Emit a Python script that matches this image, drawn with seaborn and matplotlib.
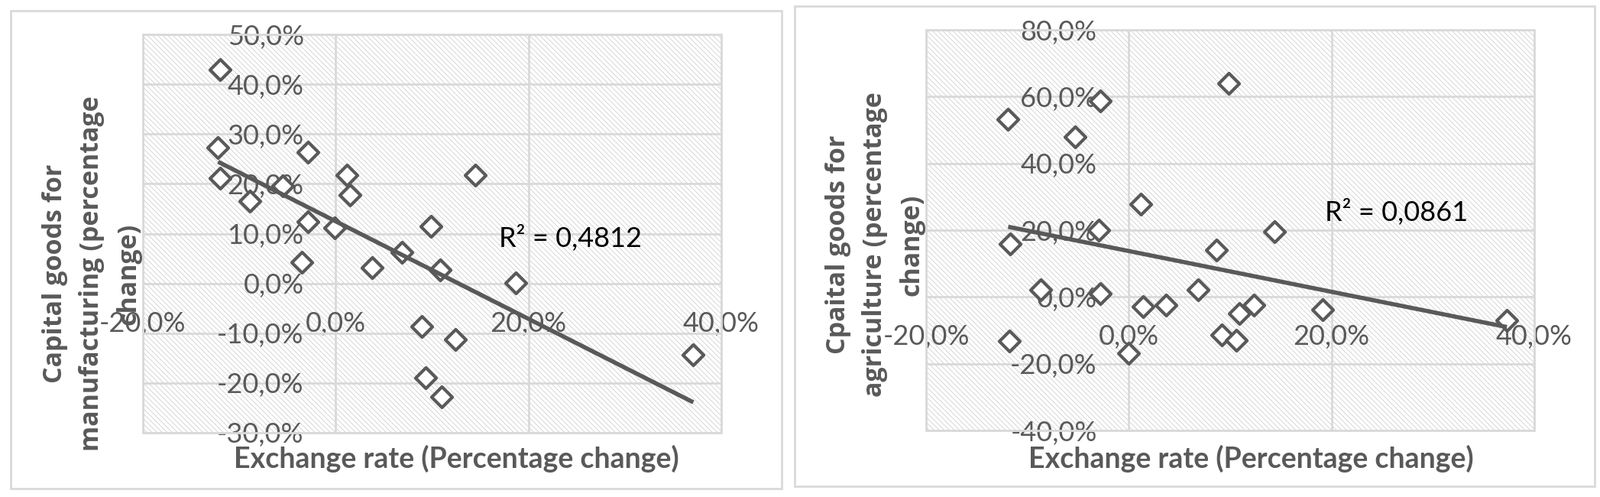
import matplotlib
matplotlib.use("Agg")
import matplotlib.pyplot as plt
from matplotlib.patches import Rectangle
from matplotlib.ticker import FuncFormatter, FixedLocator
import seaborn as sns
import numpy as np

# ---------------- data (percentage change) ----------------
exch_manuf = [-12.0, -12.2, -12.0, -8.9, -5.5, -2.9, 1.2, 1.5, 14.5, -2.9, -0.1,
              9.9, -3.5, 3.75, 6.9, 10.8, 18.7, 8.9, 12.4, 9.3, 11.0, 37.1]
cap_manuf = [42.9, 27.3, 21.1, 16.5, 19.6, 26.3, 21.7, 17.8, 21.7, 12.4, 11.1,
             11.4, 4.2, 3.1, 6.3, 2.7, 0.1, -8.7, -11.2, -19.0, -22.8, -14.4]

exch_agri = [9.85, -2.84, -11.9, -5.3, 1.2, -11.7, -3.0, 8.67, 14.4, -8.67, -2.84,
             1.43, 3.7, 6.8, 10.9, 12.3, 9.2, 10.6, -11.8, 0.0, 19.1, 37.3]
cap_agri = [63.9, 58.7, 53.2, 48.0, 27.9, 15.8, 20.0, 14.1, 19.5, 2.2, 1.1,
            -2.8, -2.4, 2.2, -4.9, -2.4, -11.3, -12.9, -13.1, -16.9, -3.8, -7.1]

x_ticks = [-20, 0, 20, 40]
y_ticks_manuf = [-30, -20, -10, 0, 10, 20, 30, 40, 50]
y_ticks_agri = [-40, -20, 0, 20, 40, 60, 80]

x_title = "Exchange rate (Percentage change)"
y_title_manuf = "Capital goods for\nmanufacturing (percentage\nchange)"
y_title_agri = "Cpaital goods for\nagriculture (percentage\nchange)"
r2_manuf = "R² = 0,4812"
r2_agri = "R² = 0,0861"

# ---------------- style ----------------
sns.set_style("white")
plt.rcParams["font.family"] = ["Lato", "DejaVu Sans"]
plt.rcParams["hatch.linewidth"] = 0.6

GRAY = "#595959"
GRID = "#d9d9d9"
W, H = 2094, 650

fig = plt.figure(figsize=(W / 100, H / 100), dpi=100)

def pct(v, _pos=None):
    return f"{v:.1f}%".replace(".", ",")

def make_panel(rect, xs, ys, yticks, ylim):
    ax = fig.add_axes(rect)
    ax.set_facecolor("white")
    # hatched plot area
    ax.add_patch(Rectangle((0, 0), 1, 1, transform=ax.transAxes, facecolor="white",
                           edgecolor="#d0d0d0", hatch="\\\\\\\\\\", lw=0, zorder=0))
    sns.regplot(x=xs, y=ys, ax=ax, ci=None, marker="D", truncate=True,
                scatter_kws=dict(s=190, facecolors="white", edgecolors=GRAY,
                                 linewidths=3.0, alpha=1, zorder=3),
                line_kws=dict(color=GRAY, lw=4.0, zorder=4, solid_capstyle="butt"))
    ax.set_xlim(x_ticks[0], x_ticks[-1])
    ax.set_ylim(*ylim)
    ax.xaxis.set_major_locator(FixedLocator(x_ticks))
    ax.yaxis.set_major_locator(FixedLocator(yticks))
    ax.xaxis.set_major_formatter(FuncFormatter(pct))
    ax.yaxis.set_major_formatter(FuncFormatter(pct))
    ax.grid(True, color=GRID, lw=2)
    ax.set_axisbelow(True)
    for s in ["top", "right"]:
        ax.spines[s].set_visible(False)
    for s in ["left", "bottom"]:
        ax.spines[s].set_position(("data", 0))
        ax.spines[s].set_color("none")
    ax.tick_params(axis="both", length=0, labelsize=26, labelcolor=GRAY)
    ax.tick_params(axis="x", pad=26)
    ax.tick_params(axis="y", pad=30)
    ax.set_xlabel("")
    ax.set_ylabel("")
    ax.add_patch(Rectangle((0, 0), 1, 1, transform=ax.transAxes, fill=False,
                           edgecolor=GRID, lw=2, clip_on=False, zorder=0.6))
    return ax

ax1 = make_panel([187 / W, 1 - 566 / H, 757 / W, 521 / H],
                 exch_manuf, cap_manuf, y_ticks_manuf, (-30, 50))
ax2 = make_panel([1212 / W, 1 - 563 / H, 796 / W, 524 / H],
                 exch_agri, cap_agri, y_ticks_agri, (-40, 80))

# chart borders
fig.add_artist(Rectangle((14 / W, 1 - 639 / H), (1023 - 14) / W, (639 - 14) / H,
                         transform=fig.transFigure, fill=False, ec=GRID, lw=2))
fig.add_artist(Rectangle((1040 / W, 1 - 636 / H), (2087 - 1040) / W, (636 - 8) / H,
                         transform=fig.transFigure, fill=False, ec=GRID, lw=2))

# axis titles
for cx, ytxt, cy in [(120, y_title_manuf, 358), (1145, y_title_agri, 320)]:
    fig.text(cx / W, 1 - cy / H, ytxt, rotation=90, ha="center", va="center",
             multialignment="center", fontsize=24.5, fontweight="bold",
             family=["Open Sans", "DejaVu Sans"], color=GRAY, linespacing=1.54)

for cx in [597, 1637]:
    fig.text(cx / W, 1 - 612 / H, x_title, ha="center", va="baseline",
             fontsize=27, fontweight="bold", color=GRAY)

fig.text(653 / W, 1 - 323 / H, r2_manuf, ha="left", va="baseline", fontsize=26, color="black")
fig.text(1734 / W, 1 - 289 / H, r2_agri, ha="left", va="baseline", fontsize=26, color="black")

fig.savefig("out.png", dpi=100)
